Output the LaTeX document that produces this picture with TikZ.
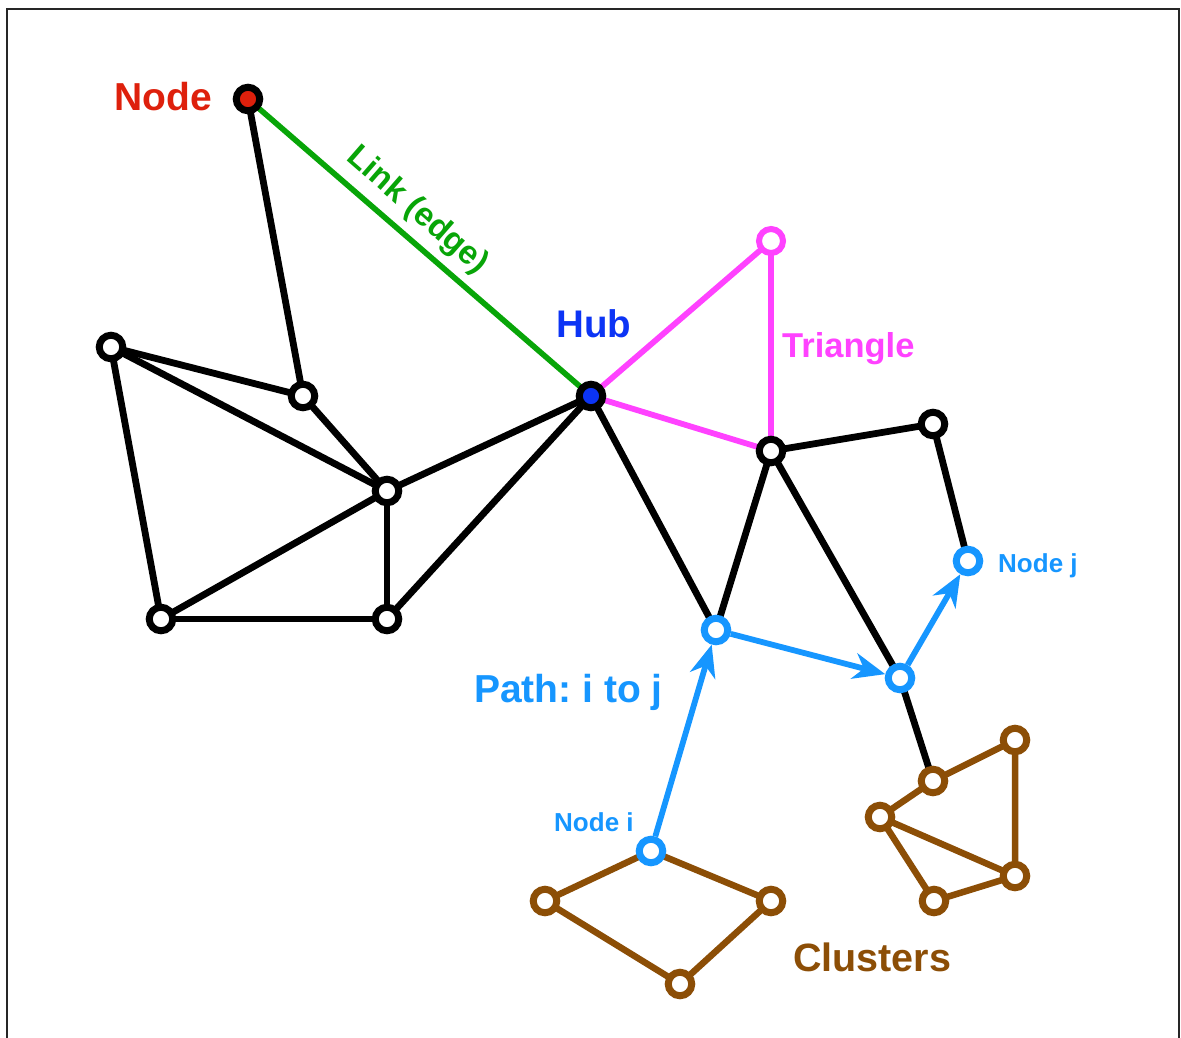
\documentclass[tikz,border=0pt]{standalone}
\usepackage{fontspec}
\setmainfont{Liberation Sans}
\frenchspacing
\usetikzlibrary{arrows.meta}
\pgfdeclarelayer{paper}
\pgfdeclarelayer{edges}
\pgfsetlayers{paper,edges,main}

\definecolor{nodered}{RGB}{222,32,12}
\definecolor{linkgreen}{RGB}{8,165,8}
\definecolor{hubblue}{RGB}{12,52,245}
\definecolor{tripink}{RGB}{255,66,255}
\definecolor{pathblue}{RGB}{22,150,255}
\definecolor{clusterbrown}{RGB}{140,78,6}

\begin{document}
\begin{tikzpicture}[x=1pt,y=-1pt,
  vtx/.style={circle, draw=black, fill=white, line width=7pt,
              minimum size=23.5pt, inner sep=0pt},
  brownvtx/.style={vtx, draw=clusterbrown},
  pinkvtx/.style={vtx, draw=tripink, line width=6pt, minimum size=24pt},
  bluevtx/.style={vtx, draw=pathblue},
  plain/.style={line width=6.8pt, black},
  linkedge/.style={line width=5.6pt, linkgreen},
  triedge/.style={line width=5.8pt, tripink},
  clusteredge/.style={line width=6.5pt, clusterbrown, line join=round},
  pathedge/.style={line width=5.8pt, pathblue,
                   -{Stealth[length=32pt, width=26pt, inset=10pt]}},
  lbl/.style={font=\bfseries\fontsize{#1}{#1}\selectfont, inner sep=0pt,
              anchor=base west},
]
\useasboundingbox (0,0) rectangle (1181,1037);
\begin{pgfonlayer}{paper}
  \fill[white] (0,0) rectangle (1181,1037);
  % frame, open at the bottom
  \draw[line width=2.6pt, black!85] (7,1040) -- (7,9) -- (1179,9) -- (1179,1040);
\end{pgfonlayer}

% vertices
\node[vtx, fill=nodered] (nd)  at (248,99)  {};
\node[vtx] (a)   at (111,347) {};
\node[vtx] (b)   at (303,396) {};
\node[vtx] (c)   at (387,491) {};
\node[vtx] (d)   at (161,619) {};
\node[vtx] (e)   at (387,619) {};
\node[vtx, fill=hubblue] (hub) at (591,396) {};
\node[pinkvtx] (t) at (771,241) {};
\node[vtx] (f)   at (771,451) {};
\node[vtx] (g)   at (933,424) {};
\node[bluevtx] (nj) at (968,561) {};
\node[bluevtx] (p1) at (716,630) {};
\node[bluevtx] (p2) at (900,678) {};
\node[bluevtx] (ni) at (651,851) {};
% left cluster
\node[brownvtx] (k1) at (545,901) {};
\node[brownvtx] (k2) at (771,901) {};
\node[brownvtx] (k3) at (680,984) {};
% right cluster
\node[brownvtx] (r1) at (933,781) {};
\node[brownvtx] (r2) at (1015,740) {};
\node[brownvtx] (r3) at (880,817) {};
\node[brownvtx] (r4) at (934,901) {};
\node[brownvtx] (r5) at (1015,876) {};

% links behind the vertices
\begin{pgfonlayer}{edges}
  \draw[plain] (nd.center) -- (b.center);
  \draw[plain] (a.center) -- (b.center);
  \draw[plain] (a.center) -- (c.center);
  \draw[plain] (a.center) -- (d.center);
  \draw[plain] (b.center) -- (c.center);
  \draw[plain] (c.center) -- (hub.center);
  \draw[plain] (c.center) -- (d.center);
  \draw[plain] (c.center) -- (e.center);
  \draw[plain] (d.center) -- (e.center);
  \draw[plain] (e.center) -- (hub.center);
  \draw[plain] (hub.center) -- (p1.center);
  \draw[plain] (f.center) -- (p1.center);
  \draw[plain] (f.center) -- (p2.center);
  \draw[plain] (f.center) -- (g.center);
  \draw[plain] (g.center) -- (nj.center);
  \draw[plain] (p2.center) -- (r1.center);
  \draw[linkedge] (nd.center) -- (hub.center);
  \draw[triedge] (hub.center) -- (t.center);
  \draw[triedge] (t.center) -- (f.center);
  \draw[triedge] (hub.center) -- (f.center);
  \draw[clusteredge] (ni.center) -- (k1.center) -- (k3.center)
                     -- (k2.center) -- (ni.center);
  \draw[clusteredge] (r1.center) -- (r2.center) -- (r5.center);
  \draw[clusteredge] (r1.center) -- (r3.center) -- (r5.center);
  \draw[clusteredge] (r3.center) -- (r4.center) -- (r5.center);
\end{pgfonlayer}

% path from i to j
\draw[pathedge] (ni) -- (p1);
\draw[pathedge] (p1) -- (p2);
\draw[pathedge] (p2) -- (nj);

% labels
\node[lbl=39, text=nodered] (lnode) at (114,110) {Node};
\node[font=\bfseries\fontsize{33}{33}\selectfont, text=linkgreen,
      inner sep=0pt, rotate=-41.1] (llink) at (417,211) {Link (edge)};
\node[lbl=38.5, text=hubblue] (lhub) at (556,337) {Hub};
\node[lbl=34.5, text=tripink] (ltri) at (782,357) {Triangle};
\node[lbl=39, text=pathblue] (lpath) at (474,702) {Path: i to j};
\node[lbl=26, text=pathblue] (lnj) at (998,572) {Node j};
\node[lbl=26, text=pathblue] (lni) at (554,831) {Node i};
\node[lbl=39.5, text=clusterbrown] (lcl) at (793,971) {Clusters};
\end{tikzpicture}
\end{document}
